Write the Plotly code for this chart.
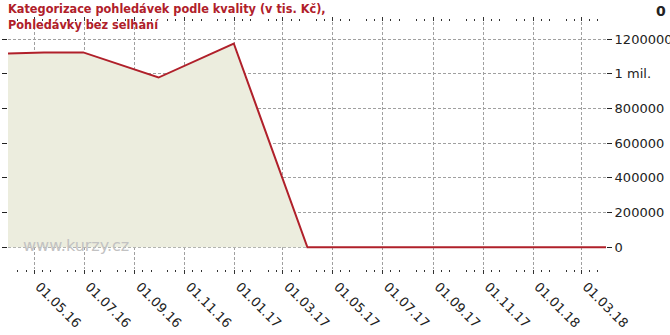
import plotly.graph_objects as go
import pandas as pd

dates = ["2016-03-30", "2016-05-13", "2016-06-30", "2016-09-30", "2016-12-31",
         "2017-03-31", "2017-06-30", "2017-09-30", "2017-12-31", "2018-03-31"]
values = [1116000, 1123000, 1123000, 978000, 1174000, 0, 0, 0, 0, 0]

major_ticks = ["2016-05-01", "2016-07-01", "2016-09-01", "2016-11-01", "2017-01-01",
               "2017-03-01", "2017-05-01", "2017-07-01", "2017-09-01", "2017-11-01",
               "2018-01-01", "2018-03-01"]
major_labels = ["01.05.16", "01.07.16", "01.09.16", "01.11.16", "01.01.17", "01.03.17",
                "01.05.17", "01.07.17", "01.09.17", "01.11.17", "01.01.18", "01.03.18"]

y_tickvals = [0, 200000, 400000, 600000, 800000, 1000000, 1200000]
y_ticktext = ["0", "200000", "400000", "600000", "800000", "1 mil.", "1200000"]

title_lines = ["Kategorizace pohledávek podle kvality (v tis. Kč),", "Pohledávky bez selhání"]

# minor ticks on 11th and 21st of each month
minor = []
for m in pd.date_range("2016-03-01", "2018-04-01", freq="MS"):
    for d in (10, 20):
        minor.append((m + pd.Timedelta(days=d)).strftime("%Y-%m-%d"))

line_color = "#b0202a"
fill_color = "#ecedde"
grid_color = "#a0a0a0"

fig = go.Figure()
fig.add_trace(go.Scatter(
    x=dates, y=values, mode="lines",
    line=dict(color=line_color, width=2),
    fill="tozeroy", fillcolor=fill_color,
    hoverinfo="skip", showlegend=False,
))

fig.update_layout(
    width=670, height=335,
    margin=dict(l=8, r=64, t=22, b=66, autoexpand=False),
    paper_bgcolor="white", plot_bgcolor="white",
    showlegend=False,
    xaxis=dict(
        type="date", automargin=False,
        range=["2016-03-30", "2018-03-31"],
        tickmode="array", tickvals=major_ticks, ticktext=major_labels,
        tickangle=45, ticklabelshift=5,
        tickfont=dict(family="DejaVu Sans", size=13, color="#222222"),
        showgrid=True, gridcolor=grid_color, griddash="3px,2px", gridwidth=1,
        ticks="outside", ticklen=4, tickcolor="#333333", tickwidth=1,
        mirror="allticks", showline=False, zeroline=False,
        minor=dict(tickmode="array", tickvals=minor, ticks="outside", ticklen=2,
                   tickcolor="#333333", showgrid=False),
    ),
    yaxis=dict(
        side="right", automargin=False,
        range=[-125000, 1298000],
        tickmode="array", tickvals=y_tickvals, ticktext=y_ticktext,
        tickfont=dict(family="DejaVu Sans", size=13, color="#222222"),
        showgrid=True, gridcolor=grid_color, griddash="3px,2px", gridwidth=1,
        ticks="outside", ticklen=5, tickcolor="#222222", tickwidth=1,
        mirror="ticks", showline=False, zeroline=False,
    ),
    annotations=[
        dict(text="<b>" + "<br>".join(title_lines) + "</b>",
             xref="paper", yref="paper", x=0, y=1.089,
             xanchor="left", yanchor="top", align="left", showarrow=False,
             borderpad=0, xshift=-1,
             font=dict(family="Liberation Sans Narrow, DejaVu Sans Condensed, sans-serif",
                       size=12.6, color=line_color)),
        dict(text="<b>0</b>", xref="paper", yref="paper", x=1.104, y=1.085,
             xanchor="right", yanchor="top", showarrow=False,
             font=dict(family="DejaVu Sans", size=14, color="#222222")),
        dict(text="www.kurzy.cz", xref="paper", yref="paper", x=0.022, y=0.097,
             xanchor="left", yanchor="middle", showarrow=False,
             font=dict(family="DejaVu Sans", size=16, color="#c2c2c2")),
    ],
)

fig.write_html("out.html")
